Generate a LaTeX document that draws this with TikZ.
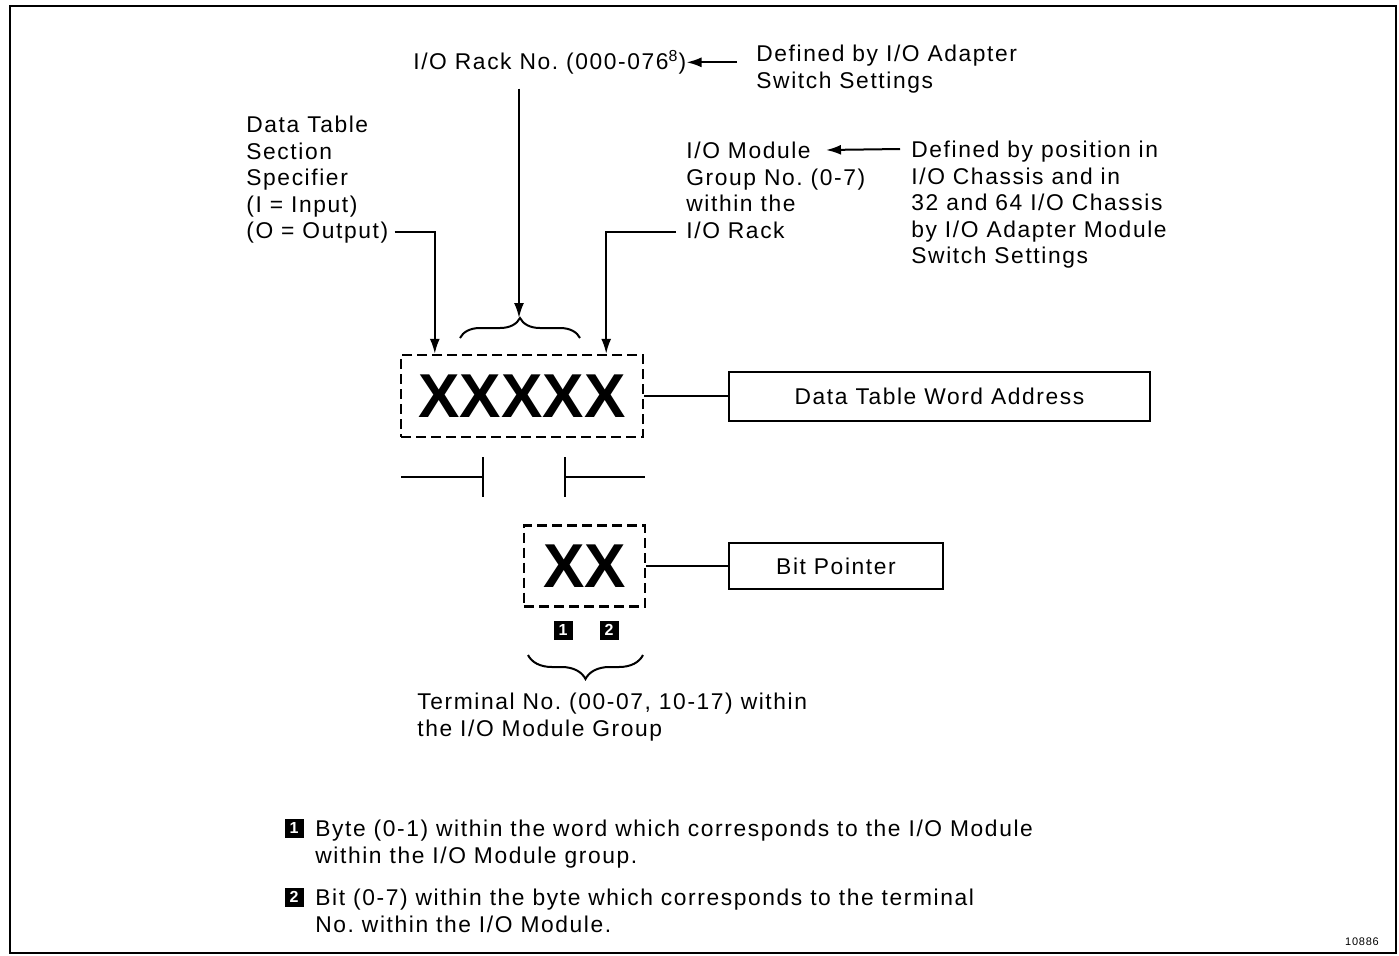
\documentclass[tikz,border=0pt]{standalone}
\usepackage{fontspec}
\setmainfont{Liberation Sans}[LetterSpace=7]
\newfontfamily\bigfont{Liberation Sans}
\usetikzlibrary{arrows.meta, positioning, decorations.pathreplacing, calc}
\frenchspacing

\begin{document}
\begin{tikzpicture}[x=0.5pt, y=-0.5pt,
    label/.style={anchor=north west, inner sep=0pt, align=left, font=\fontsize{11.4}{13.25}\selectfont},
    field/.style={draw, line width=1.2pt, dash pattern=on 5pt off 2.5pt, inner sep=0pt, font=\bigfont\bfseries\fontsize{31}{31}\selectfont},
    namebox/.style={draw, line width=1pt, inner sep=0pt, font=\fontsize{11.4}{13.25}\selectfont},
    numbox/.style={fill=black, text=white, inner sep=0pt, minimum size=9.5pt, font=\bigfont\bfseries\fontsize{8}{8}\selectfont},
    arrow/.style={-{Latex[length=7.5pt,width=5pt]}, line width=1pt},
    curly/.style={decorate, decoration={brace, amplitude=#1}, line width=1pt}
]
    \useasboundingbox (0,0) rectangle (1399,955);

    % Frame
    \draw[line width=1pt] (10,6) rectangle (1396,953);

    % Rack number
    \node[label] (rack) at (413,50) {I/O Rack No. (000-076\textsuperscript{8})};
    \node[label] (adapter) at (756,45) {Defined by I/O Adapter\\Switch Settings};

    % Section specifier and module group
    \node[label] (spec) at (246,116) {Data Table\\Section\\Specifier\\(I = Input)\\(O = Output)};
    \node[label] (group) at (686,142) {I/O Module\\Group No. (0-7)\\within the\\I/O Rack};
    \node[label] (chassis) at (911,141) {Defined by position in\\I/O Chassis and in\\32 and 64 I/O Chassis\\by I/O Adapter Module\\Switch Settings};

    % Word address
    \node[field, minimum width=121pt, minimum height=41pt] (addr) at (522,396) {XXXXX};
    \node[namebox, minimum width=210.5pt, minimum height=24.5pt] (word) at (939.5,396) {Data Table Word Address};

    % Bit pointer
    \node[field, minimum width=60.5pt, minimum height=40.5pt] (bits) at (584.5,566) {XX};
    \node[namebox, minimum width=107pt, minimum height=23pt] (pointer) at (836,566) {Bit Pointer};
    \node[numbox] (n1) at (563,630) {1};
    \node[numbox] (n2) at (609,630) {2};

    % Terminal
    \node[label] (terminal) at (417,693) {Terminal No. (00-07, 10-17) within\\the I/O Module Group};

    % Notes
    \node[numbox] (k1) at (294,828) {1};
    \node[label] (note1) at (315,820) {Byte (0-1) within the word which corresponds to the I/O Module\\within the I/O Module group.};
    \node[numbox] (k2) at (294,897) {2};
    \node[label] (note2) at (315,889) {Bit (0-7) within the byte which corresponds to the terminal\\No. within the I/O Module.};

    \node[font=\fontsize{5.5}{6}\selectfont] (fig) at (1362,942) {10886};

    % Braces
    \draw[curly=10pt] (460,338) -- (580,338);
    \coordinate (racktip) at (519,318);
    \draw[curly=12pt] (643,655) -- (528,655);

    % Byte ticks
    \draw[line width=1pt] (401,477) -- (483,477);
    \draw[line width=1pt] (483,457) -- (483,497);
    \draw[line width=1pt] (565,457) -- (565,497);
    \draw[line width=1pt] (565,477) -- (645,477);

    % Arrows
    \draw[arrow, shorten <=9.5pt] (adapter.west |- rack.east) -- (rack.east);
    \draw[arrow, shorten <=7pt] (rack.south -| racktip) -- (racktip);
    \draw[arrow] ([xshift=3pt,yshift=6pt]spec.south east) -| ([xshift=17.5pt]addr.north west);
    \draw[arrow] ([xshift=-5pt,yshift=3.5pt]group.south west) -| ([xshift=-19pt]addr.north east);
    \draw[arrow] ([xshift=-5.5pt,yshift=-4pt]chassis.north west) -- ([xshift=70pt,yshift=-4pt]group.north west);

    % Links to boxes
    \draw[line width=1pt] (addr.east) -- (word.west);
    \draw[line width=1pt] (bits.east) -- (pointer.west);
\end{tikzpicture}
\end{document}
